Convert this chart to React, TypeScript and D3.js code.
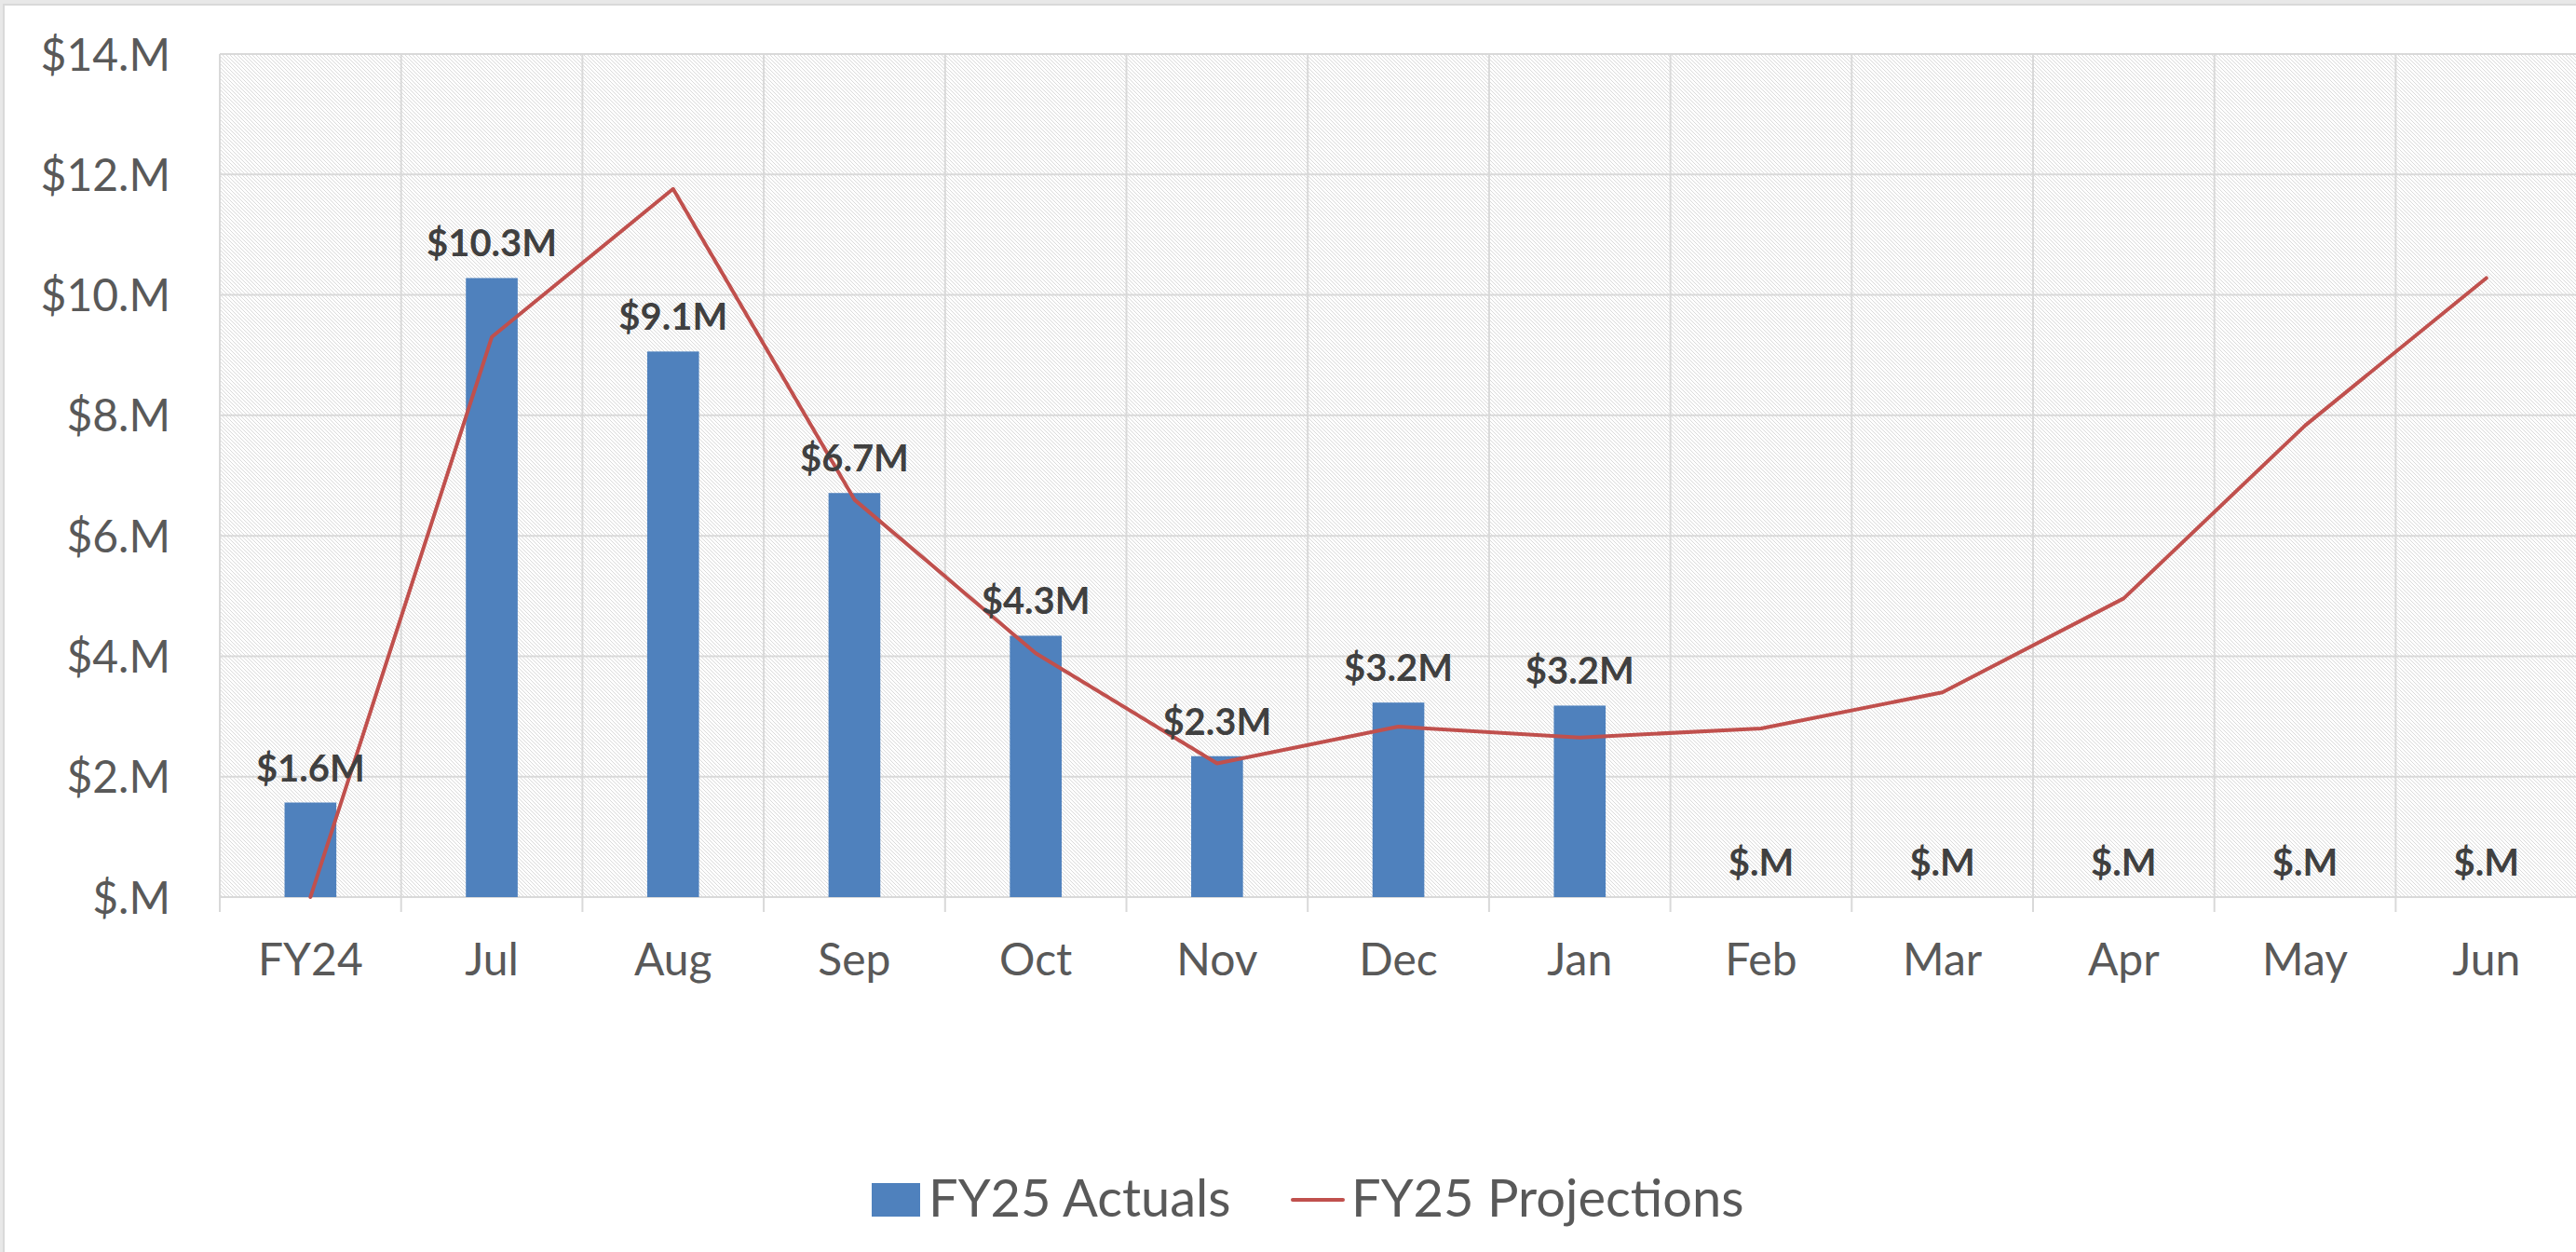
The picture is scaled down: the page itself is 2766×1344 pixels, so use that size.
import React from 'react';
import * as d3 from 'd3';

const categories = ['FY24', 'Jul', 'Aug', 'Sep', 'Oct', 'Nov', 'Dec', 'Jan', 'Feb', 'Mar', 'Apr', 'May', 'Jun'];
// values in $M
const actuals = [1.57, 10.28, 9.06, 6.71, 4.34, 2.34, 3.23, 3.18, 0, 0, 0, 0, 0];
const projections = [0, 9.3, 11.76, 6.6, 4.05, 2.22, 2.83, 2.65, 2.8, 3.4, 4.96, 7.83, 10.28];
const yTicks = [0, 2, 4, 6, 8, 10, 12, 14];
const legendLabels = ['FY25 Actuals', 'FY25 Projections'];

const width = 2766;
const height = 1344;
const plot = { left: 236, top: 58, bottom: 963, band: 194.7 };

const BLUE = '#4F81BD';
const RED = '#C0504D';
const GRID = '#d9d9d9';
const FONT = 'Lato, "Open Sans", sans-serif';

const yFmt = (v: number) => `$${v === 0 ? '' : v}.M`;
const labelFmt = (v: number) => (v === 0 ? '$.M' : `$${v.toFixed(1)}M`);

export default function App() {
  const x = d3
    .scaleBand<string>()
    .domain(categories)
    .range([plot.left, plot.left + plot.band * categories.length])
    .padding(0);
  const y = d3.scaleLinear().domain([0, 14]).range([plot.bottom, plot.top]);

  const barW = x.bandwidth() / 3.5;
  const cx = (c: string) => (x(c) as number) + x.bandwidth() / 2;

  const line = d3
    .line<number>()
    .x((_, i) => cx(categories[i]))
    .y((d) => y(d));

  const plotRight = plot.left + plot.band * categories.length;

  return (
    <svg
      width={width}
      height={height}
      style={{ position: 'absolute', left: 0, top: 0, display: 'block' }}
    >
      <defs>
        <pattern id="hatch" width={4} height={4} patternUnits="userSpaceOnUse">
          <rect width={4} height={4} fill="#fff" />
          {[0, 1, 2, 3].map((k) => (
            <rect key={k} x={k} y={k} width={1} height={1} fill="#dadada" shapeRendering="crispEdges" />
          ))}
        </pattern>
      </defs>

      {/* chart frame */}
      <rect x={0} y={0} width={width} height={height} fill="#e8e8e8" />
      <rect x={4} y={5} width={width + 10} height={height + 10} fill="#fff" stroke={GRID} strokeWidth={2} />

      {/* plot area */}
      <rect x={plot.left} y={plot.top} width={plotRight - plot.left} height={plot.bottom - plot.top} fill="url(#hatch)" />

      {/* horizontal gridlines */}
      {yTicks.map((t) => (
        <line key={t} x1={plot.left} x2={plotRight} y1={y(t)} y2={y(t)} stroke={GRID} strokeWidth={2} />
      ))}

      {/* vertical gridlines + tick marks */}
      {categories.map((c) => (
        <line
          key={c}
          x1={x(c)}
          x2={x(c)}
          y1={plot.top}
          y2={plot.bottom + 16}
          stroke={GRID}
          strokeWidth={2}
        />
      ))}
      <line x1={plotRight} x2={plotRight} y1={plot.top} y2={plot.bottom + 16} stroke={GRID} strokeWidth={2} />

      {/* y labels */}
      {yTicks.map((t) => (
        <text
          key={t}
          x={183}
          y={y(t) + 17.5}
          textAnchor="end"
          fontFamily={FONT}
          fontSize={48}
          fill="#595959"
        >
          {yFmt(t)}
        </text>
      ))}

      {/* x labels */}
      {categories.map((c) => (
        <text key={c} x={cx(c)} y={1046.5} textAnchor="middle" fontFamily={FONT} fontSize={48} fill="#595959">
          {c}
        </text>
      ))}

      {/* bars */}
      {actuals.map((v, i) => (
        <rect
          key={i}
          x={cx(categories[i]) - barW / 2}
          y={y(v)}
          width={barW}
          height={y(0) - y(v)}
          fill={BLUE}
        />
      ))}

      {/* projection line */}
      <path
        d={line(projections) as string}
        fill="none"
        stroke={RED}
        strokeWidth={4}
        strokeLinejoin="round"
        strokeLinecap="round"
      />

      {/* data labels */}
      {actuals.map((v, i) => (
        <text
          key={i}
          x={cx(categories[i])}
          y={y(v) - 23}
          textAnchor="middle"
          fontFamily={FONT}
          fontSize={40}
          fontWeight="bold"
          fill="#404040"
        >
          {labelFmt(v)}
        </text>
      ))}

      {/* legend */}
      <rect x={936} y={1270} width={52} height={36} fill={BLUE} />
      <text x={997} y={1305.5} fontFamily={FONT} fontSize={56} fill="#595959">
        {legendLabels[0]}
      </text>
      <line x1={1388} x2={1442} y1={1288} y2={1288} stroke={RED} strokeWidth={4} strokeLinecap="round" />
      <text x={1451} y={1305.5} fontFamily={FONT} fontSize={56} fill="#595959">
        {legendLabels[1]}
      </text>
    </svg>
  );
}
